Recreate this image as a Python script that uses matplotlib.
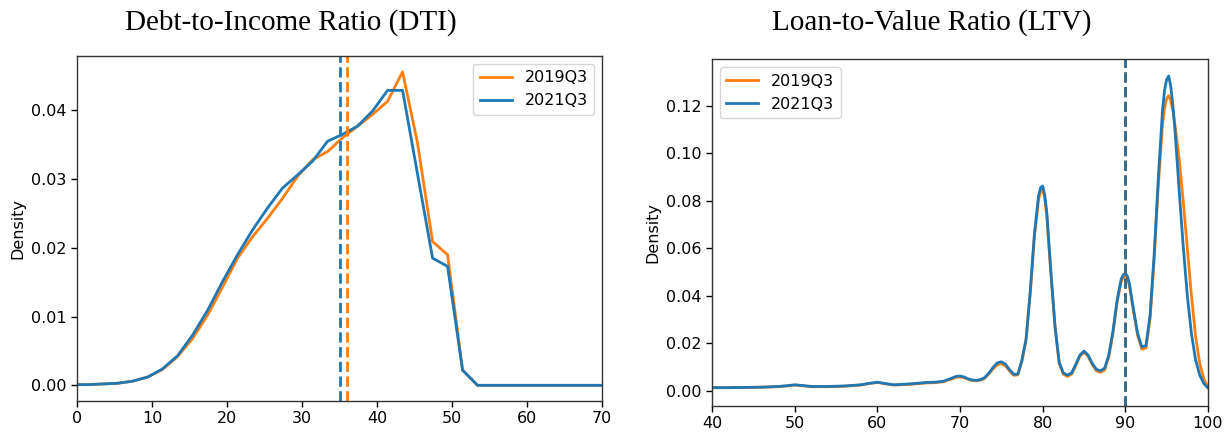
import matplotlib
matplotlib.use("Agg")
import matplotlib.pyplot as plt

# colours used by pandas' default cycle
c19 = "#ff7f0e"
c21 = "#1f77b4"

labels = ["2019Q3", "2021Q3"]

# --- Debt-to-Income density ---
dti_x = [0, 1.4, 3.4, 5.4, 7.4, 9.4, 11.4, 13.4, 15.4, 17.4, 19.4, 21.4, 23.4,
         25.4, 27.4, 29.4, 31.4, 33.4, 35.4, 37.4, 39.4, 41.4, 43.4, 45.4,
         47.4, 49.4, 51.4, 53.4, 70]
dti_2019 = [0.0001, 0.0001, 0.0002, 0.0003, 0.0006, 0.0012, 0.0023, 0.0042,
            0.0068, 0.0102, 0.0143, 0.0185, 0.0216, 0.0243, 0.0272, 0.0304,
            0.0328, 0.0340, 0.0360, 0.0377, 0.0394, 0.0413, 0.0456, 0.0352,
            0.0209, 0.0190, 0.0022, 0.0000, 0.0000]
dti_2021 = [0.0001, 0.0001, 0.0002, 0.0003, 0.0006, 0.0012, 0.0024, 0.0043,
            0.0073, 0.0109, 0.0151, 0.0190, 0.0226, 0.0258, 0.0287, 0.0306,
            0.0326, 0.0355, 0.0365, 0.0377, 0.0399, 0.0429, 0.0429, 0.0307,
            0.0185, 0.0173, 0.0022, 0.0000, 0.0000]
dti_median = [36, 35]

# --- Loan-to-Value density ---
ltv_x = [40, 42, 44, 46, 48, 49, 50, 51, 52, 54, 56, 58, 59, 60, 61, 62, 64,
         66, 67, 68, 69, 69.5, 70, 70.5, 71, 71.5, 72, 72.5, 73, 73.5, 74,
         74.5, 75, 75.5, 76, 76.5, 77, 77.5, 78, 78.5, 79, 79.5, 79.75, 80,
         80.25, 80.5, 81, 81.5, 82, 82.5, 83, 83.5, 84, 84.5, 85, 85.5, 86,
         86.5, 87, 87.5, 88, 88.5, 89, 89.5, 89.75, 90, 90.25, 90.5, 91, 91.5,
         92, 92.5, 93, 93.5, 94, 94.5, 94.75, 95, 95.25, 95.5, 95.75, 96,
         96.5, 97, 97.5, 98, 98.5, 99, 99.5, 100]
ltv_2021 = [0.0013, 0.0013, 0.0014, 0.0015, 0.0018, 0.0021, 0.0025, 0.0022,
            0.0018, 0.0018, 0.0020, 0.0025, 0.0031, 0.0036, 0.0030, 0.0025,
            0.0029, 0.0035, 0.0036, 0.0040, 0.0053, 0.0060, 0.0062, 0.0058,
            0.0050, 0.0045, 0.0044, 0.0047, 0.0056, 0.0075, 0.0098, 0.0117,
            0.0122, 0.0112, 0.0088, 0.0069, 0.0070, 0.0130, 0.0220, 0.0420,
            0.0660, 0.0820, 0.0855, 0.0862, 0.0825, 0.0750, 0.0500, 0.0270,
            0.0120, 0.0075, 0.0066, 0.0075, 0.0110, 0.0150, 0.0167, 0.0150,
            0.0115, 0.0090, 0.0084, 0.0095, 0.0150, 0.0250, 0.0380, 0.0470,
            0.0488, 0.0494, 0.0482, 0.0450, 0.0340, 0.0240, 0.0185, 0.0190,
            0.0320, 0.0580, 0.0900, 0.1180, 0.1265, 0.1310, 0.1325, 0.1280,
            0.1200, 0.1100, 0.0850, 0.0610, 0.0400, 0.0240, 0.0130, 0.0066,
            0.0030, 0.0012]
ltv_2019 = [0.0013, 0.0013, 0.0014, 0.0015, 0.0017, 0.0020, 0.0024, 0.0021,
            0.0017, 0.0017, 0.0019, 0.0024, 0.0030, 0.0035, 0.0029, 0.0024,
            0.0027, 0.0033, 0.0034, 0.0038, 0.0050, 0.0056, 0.0058, 0.0055,
            0.0048, 0.0043, 0.0042, 0.0045, 0.0053, 0.0071, 0.0092, 0.0109,
            0.0114, 0.0105, 0.0083, 0.0065, 0.0067, 0.0125, 0.0215, 0.0410,
            0.0645, 0.0805, 0.0840, 0.0845, 0.0810, 0.0735, 0.0490, 0.0265,
            0.0115, 0.0070, 0.0060, 0.0070, 0.0105, 0.0145, 0.0162, 0.0145,
            0.0110, 0.0084, 0.0077, 0.0088, 0.0142, 0.0240, 0.0370, 0.0460,
            0.0478, 0.0485, 0.0473, 0.0442, 0.0332, 0.0232, 0.0175, 0.0180,
            0.0305, 0.0560, 0.0870, 0.1120, 0.1190, 0.1230, 0.1242, 0.1220,
            0.1180, 0.1120, 0.0980, 0.0800, 0.0600, 0.0400, 0.0230, 0.0115,
            0.0050, 0.0015]
ltv_median = [90, 90]


def style_axis(ax):
    ax.set_ylabel("Density", fontsize=11.5)
    ax.tick_params(labelsize=11.5, width=1.0, length=4)
    for s in ax.spines.values():
        s.set_color("#333333")
        s.set_linewidth(1.0)


fig = plt.figure(figsize=(12.31, 4.33), dpi=100)
ax1 = fig.add_axes([0.0626, 0.0739, 0.4265, 0.7968])
ax2 = fig.add_axes([0.5784, 0.063, 0.4029, 0.800])

ax1.plot(dti_x, dti_2019, color=c19, lw=2.0, label=labels[0])
ax1.plot(dti_x, dti_2021, color=c21, lw=2.0, label=labels[1])
ax1.axvline(dti_median[0], color=c19, ls="--", lw=2.0)
ax1.axvline(dti_median[1], color=c21, ls="--", lw=2.0)
ax1.set_xlim(0, 70)
ax1.set_ylim(-0.00228, 0.0479)
ax1.set_yticks([0.00, 0.01, 0.02, 0.03, 0.04])
style_axis(ax1)
ax1.legend(loc="upper right", fontsize=11.5)

ax2.plot(ltv_x, ltv_2019, color=c19, lw=2.0, label=labels[0])
ax2.plot(ltv_x, ltv_2021, color=c21, lw=2.0, label=labels[1])
ax2.axvline(ltv_median[0], color=c19, ls="--", lw=2.0)
ax2.axvline(ltv_median[1], color="#2e6a92", ls="--", lw=2.0)
ax2.set_xlim(40, 100)
ax2.set_ylim(-0.0063, 0.1395)
ax2.set_yticks([0.00, 0.02, 0.04, 0.06, 0.08, 0.10, 0.12])
style_axis(ax2)
ax2.legend(loc="upper left", fontsize=11.5)

fig.text(0.2364, 0.949, "Debt-to-Income Ratio (DTI)", ha="center", va="center",
         fontsize=21, family="Liberation Serif")
fig.text(0.7567, 0.949, "Loan-to-Value Ratio (LTV)", ha="center", va="center",
         fontsize=21, family="Liberation Serif")

fig.savefig("out.png", dpi=100)
